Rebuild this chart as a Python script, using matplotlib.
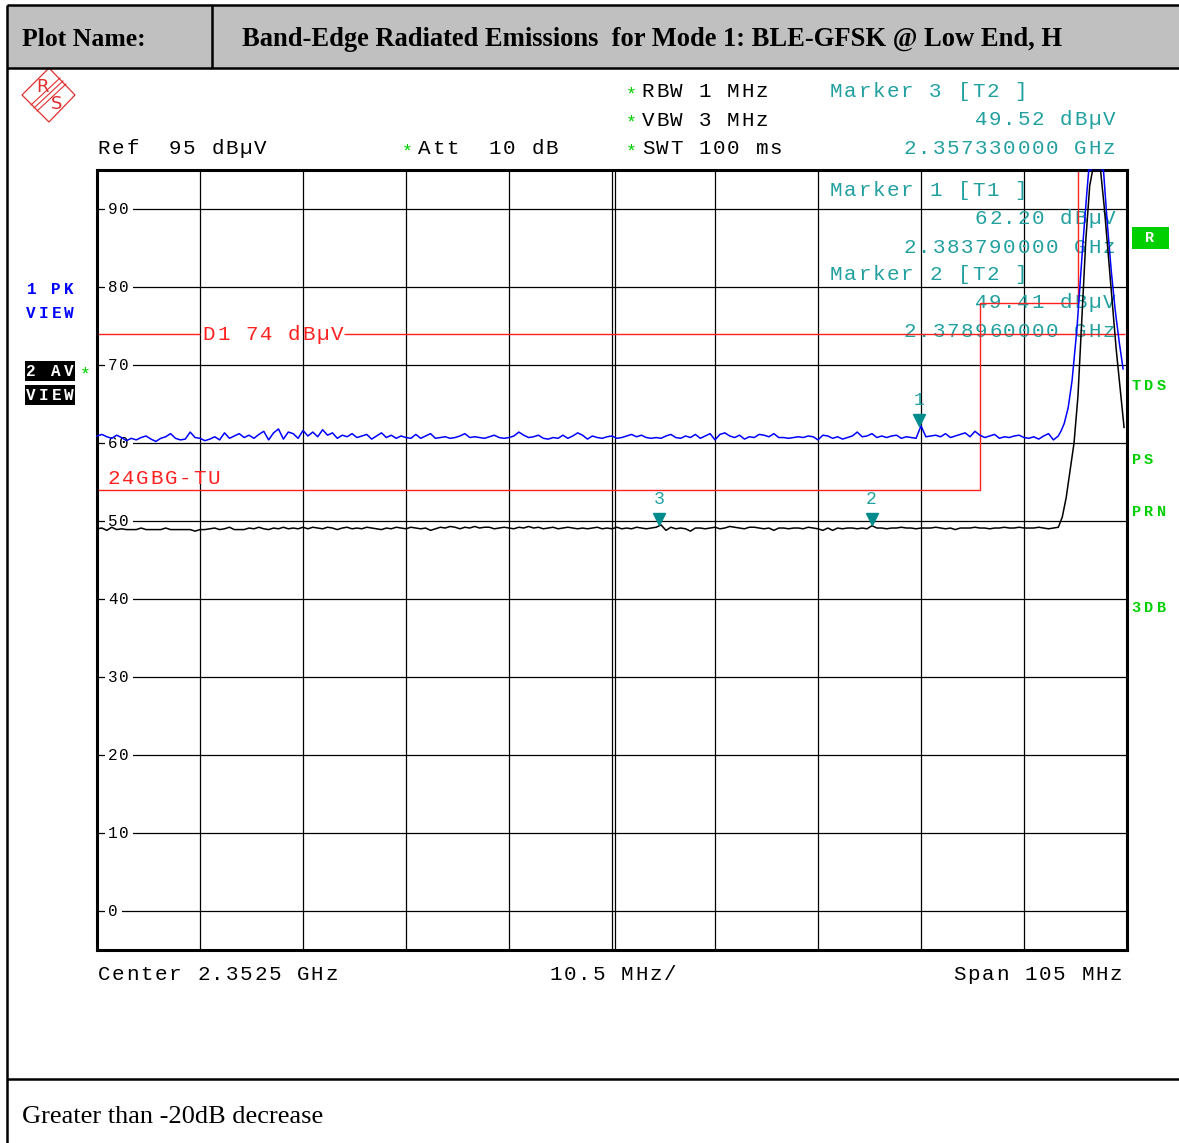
import numpy as np
import matplotlib.pyplot as plt
from matplotlib.patches import Rectangle, Polygon

W, H = 1179, 1143

# sweep: center 2352.5 MHz, span 105 MHz, 10.5 MHz/div
f_start, f_stop = 2300.0, 2405.0
f_div = 10.5

# noise floor, 0.5 MHz steps from 2300.0 MHz to 2397.5 MHz
pk_floor = [
    60.9, 61.1, 60.8, 60.6, 61.0, 60.7, 60.3, 60.6, 60.4, 60.7, 60.9, 60.5, 60.2, 60.6, 60.8, 61.2, 60.6, 60.4, 60.5, 61.4,
    60.7, 60.6, 60.3, 60.5, 60.8, 60.4, 61.3, 60.6, 60.9, 61.2, 60.7, 61.0, 60.6, 61.1, 61.5, 60.4, 61.3, 61.8, 60.5, 61.4,
    61.2, 60.6, 61.6, 60.9, 61.4, 60.8, 61.7, 61.0, 61.3, 60.6, 61.0, 60.8, 61.2, 60.7, 60.9, 61.1, 60.5, 60.9, 61.3, 60.7,
    61.0, 60.6, 60.9, 60.7, 60.6, 61.1, 60.6, 60.9, 61.2, 60.6, 60.7, 60.8, 60.6, 60.7, 60.9, 61.2, 60.7, 60.8, 60.7, 60.6,
    60.8, 61.0, 60.7, 60.6, 60.7, 60.9, 61.4, 61.0, 60.7, 60.8, 61.0, 60.6, 60.5, 60.7, 60.6, 61.0, 60.6, 60.9, 61.3, 61.0,
    60.5, 60.9, 60.7, 60.6, 60.8, 60.9, 60.6, 60.7, 60.9, 61.1, 60.8, 61.0, 60.7, 60.6, 60.7, 60.6, 60.9, 61.1, 60.7, 60.6,
    60.9, 60.7, 61.1, 60.6, 60.9, 61.2, 60.4, 61.1, 61.3, 60.9, 60.7, 61.0, 60.5, 60.8, 60.7, 61.1, 61.0, 60.8, 61.2, 60.7,
    60.7, 60.6, 60.7, 60.8, 60.7, 60.9, 60.8, 60.4, 61.0, 60.9, 60.6, 60.8, 60.5, 60.7, 60.9, 61.4, 60.8, 60.9, 61.2, 60.7,
    60.9, 60.7, 60.9, 61.0, 60.6, 60.8, 60.7, 60.6, 62.2, 60.8, 60.9, 61.0, 60.8, 61.2, 60.7, 60.9, 61.1, 61.3, 60.8, 61.5,
    61.0, 60.7, 60.9, 61.1, 60.6, 60.8, 60.7, 60.9, 61.0, 60.7, 60.6, 60.8, 60.5, 60.9, 61.2, 60.4,
]
av_floor = [
    49.0, 49.1, 48.8, 49.2, 48.9, 49.0, 48.9, 48.9, 48.9, 49.1, 48.9, 48.9, 48.9, 48.9, 49.1, 48.9, 48.9, 48.9, 48.9, 48.9,
    48.7, 48.9, 48.9, 49.0, 49.1, 48.9, 49.0, 49.2, 48.9, 48.9, 48.9, 49.1, 49.0, 49.2, 49.0, 48.9, 49.1, 49.0, 49.2, 49.0,
    49.1, 49.0, 49.2, 49.0, 49.2, 49.1, 49.0, 49.2, 49.1, 48.9, 49.1, 49.2, 49.0, 49.1, 49.0, 49.2, 49.1, 49.0, 48.9, 49.1,
    49.0, 49.2, 49.1, 49.0, 49.2, 49.1, 49.0, 49.1, 48.8, 49.0, 49.2, 49.1, 49.3, 49.2, 49.0, 49.2, 49.1, 49.3, 49.1, 49.2,
    49.2, 49.0, 49.1, 49.2, 49.1, 49.0, 49.2, 49.1, 49.3, 49.1, 49.2, 49.0, 49.1, 49.2, 49.0, 49.1, 49.2, 49.1, 49.0, 49.1,
    49.0, 49.1, 49.2, 49.0, 49.1, 49.0, 49.2, 49.0, 49.1, 49.0, 49.2, 49.1, 49.0, 49.1, 49.2, 49.5, 48.8, 49.2, 49.0, 49.1,
    49.0, 48.7, 49.1, 49.1, 49.0, 49.1, 49.2, 49.0, 49.1, 49.3, 49.2, 49.1, 49.0, 49.2, 49.2, 49.1, 49.0, 49.1, 48.8, 49.1,
    49.1, 49.0, 49.1, 49.1, 49.0, 49.2, 49.1, 49.0, 48.8, 49.1, 48.8, 49.1, 49.0, 49.1, 49.1, 49.0, 49.1, 49.0, 49.4, 49.1,
    49.1, 49.0, 49.1, 49.1, 49.2, 49.1, 49.1, 49.0, 49.1, 49.1, 49.1, 49.2, 49.1, 49.0, 49.1, 48.9, 49.1, 49.1, 49.1, 49.2,
    49.1, 49.1, 49.0, 49.1, 49.1, 49.2, 49.1, 49.1, 49.2, 49.1, 49.1, 49.1, 49.2, 49.1, 49.0, 49.1,
]
floor_step = 0.5

# carrier at 2402 MHz (clipped at the top of the screen)
pk_peak_f = [2398.0, 2398.3, 2398.6, 2399.0, 2399.4, 2399.9, 2400.5, 2400.9, 2401.1, 2402.6,
             2403.0, 2403.4, 2403.8, 2404.2, 2404.6]
pk_peak = [60.9, 61.6, 62.5, 64.5, 68.0, 74.7, 85.5, 92.0, 95.0, 95.0,
           88.0, 82.0, 77.0, 73.0, 69.5]
av_peak_f = [2398.0, 2398.4, 2398.8, 2399.2, 2399.6, 2400.0, 2400.4, 2400.8, 2401.2, 2401.5,
             2402.3, 2402.7, 2403.1, 2403.5, 2403.9, 2404.3, 2404.7]
av_peak = [49.2, 50.5, 53.0, 56.5, 60.0, 66.0, 76.0, 86.0, 93.0, 95.0,
           95.0, 90.0, 84.0, 78.0, 72.0, 67.0, 62.0]

# limit line 24GBG-TU and display line D1
limit_f = [2300.0, 2390.0, 2390.0, 2400.0, 2400.0]
limit_db = [54, 54, 78, 78, 95]
d1_db = 74

marker_num = ['1', '2', '3']
marker_trace = ['T1', 'T2', 'T2']
marker_f = [2383.79, 2378.96, 2357.33]
marker_db = [62.20, 49.41, 49.52]

ref_db = 95
y_ticks = [0, 10, 20, 30, 40, 50, 60, 70, 80, 90]

TEAL = '#22a0a0'
RED = '#ff2020'
GREEN = '#00d000'
MONO = 'Liberation Mono'
SERIF = 'Liberation Serif'

fig = plt.figure(figsize=(W / 100, H / 100), dpi=100)

# background layer in pixel coordinates (origin top-left)
bg = fig.add_axes([0, 0, 1, 1])
bg.set_xlim(0, W)
bg.set_ylim(H, 0)
bg.axis('off')


def spaced(x, y, s, color='black', adv=14.2, size=15, ha='left', target=None,
           weight='normal', zorder=3):
    # analyzer screen font: fixed, wide character cells
    target = target or bg
    if ha == 'right':
        x = x - len(s) * adv + 1
    else:
        x = x - 1
    for i, ch in enumerate(s):
        if ch != ' ':
            target.text(x + (i + 0.5) * adv, y, ch, color=color, fontfamily=MONO,
                        fontsize=size, fontweight=weight, ha='center', va='baseline',
                        transform=bg.transData, zorder=zorder, clip_on=False)


# header table
bg.add_patch(Rectangle((7, 5), W - 7, 63, facecolor='#c0c0c0', edgecolor='none'))
for xs, ys in [([7, W], [5, 5]), ([7, W], [68, 68]), ([212, 212], [5, 68]),
               ([7, 7], [5, H]), ([7, W], [1079, 1079])]:
    bg.plot(xs, ys, color='black', lw=1.8, solid_capstyle='butt')
bg.text(22, 46, 'Plot Name:', fontfamily=SERIF, fontweight='bold', fontsize=18.5)
bg.text(242, 46, 'Band-Edge Radiated Emissions  for Mode 1: BLE-GFSK @ Low End, H',
        fontfamily=SERIF, fontweight='bold', fontsize=19.1)
bg.text(22, 1123, 'Greater than -20dB decrease', fontfamily=SERIF, fontsize=19)

# R&S logo
bg.add_patch(Polygon([(22, 95), (49, 68), (75, 95), (49, 122)], closed=True,
                     fill=False, edgecolor='#e03030', lw=0.9))
for d in (-3, 0, 3):
    bg.plot([34 + d, 63 + d], [108 + d, 81 + d], color='#e03030', lw=0.8)
bg.text(42, 87, 'R', color='#e03030', fontsize=13, ha='center', va='center')
bg.text(57, 104, 'S', color='#e03030', fontsize=13, ha='center', va='center')

# instrument settings
spaced(98, 154, f'Ref  {ref_db} dBµV')
spaced(403, 156, '*', color=GREEN, adv=10, size=13)
spaced(418, 154, 'Att  10 dB')
for i, s in enumerate(['RBW 1 MHz', 'VBW 3 MHz', 'SWT 100 ms']):
    spaced(627, 99 + 28.5 * i, '*', color=GREEN, adv=10, size=13)
    spaced(642, 97 + 28.5 * i, s)

spaced(830, 97, f'Marker {marker_num[2]} [{marker_trace[2]} ]', color=TEAL)
spaced(1115, 125, f'{marker_db[2]:.2f} dBµV', color=TEAL, ha='right')
spaced(1115, 154, f'{marker_f[2] / 1000:.9f} GHz', color=TEAL, ha='right')

spaced(98, 980, f'Center {(f_start + f_stop) / 2000:.4f} GHz')
spaced(550, 980, f'{f_div} MHz/')
spaced(1122, 980, f'Span {f_stop - f_start:.0f} MHz', ha='right')

# side soft keys
spaced(26, 294, '1 PK', color='#0000ff', adv=12.5, size=11.5, weight='bold')
spaced(26, 318, 'VIEW', color='#0000ff', adv=12.5, size=11.5, weight='bold')
for y0, s in [(361, '2 AV'), (385, 'VIEW')]:
    bg.add_patch(Rectangle((25, y0), 50, 20, facecolor='black'))
    spaced(26, y0 + 15, s, color='white', adv=12.5, size=11.5, weight='bold')
spaced(81, 379, '*', color=GREEN, adv=10, size=13)
bg.add_patch(Rectangle((1132, 227), 37, 22, facecolor=GREEN))
bg.text(1150, 238, 'R', color='white', fontfamily=MONO, fontweight='bold', fontsize=11,
        ha='center', va='center')
for y0, s in [(390, 'TDS'), (464, 'PS'), (516, 'PRN'), (612, '3DB')]:
    spaced(1131, y0, s, color=GREEN, adv=12.5, size=11, weight='bold')

# screen
ax = fig.add_axes([97 / W, 1 - 950 / H, 1030 / W, 780 / H])
ax.set_xlim(f_start, f_stop)
ax.set_ylim(ref_db - 100, ref_db)
ax.set_xticks(np.arange(f_start, f_stop + 0.01, f_div))
ax.set_yticks(y_ticks)
ax.tick_params(length=0, labelbottom=False, labelleft=False)
ax.grid(True, color='black', lw=0.9)
ax.set_axisbelow(True)
ax.axvline((f_start + f_stop) / 2 + 0.3, color='black', lw=0.9, zorder=0.5)
for sp in ax.spines.values():
    sp.set_linewidth(2.2)

for v in y_ticks:
    label = str(v)
    ypix = 950 - (v - (ref_db - 100)) * 7.8
    ax.add_patch(Rectangle((105, ypix - 6), 5 + 11.5 * len(label), 12, facecolor='white',
                           edgecolor='none', transform=bg.transData, zorder=0.8))
    spaced(108, ypix + 5, label, adv=11.5, size=11.5, target=ax, zorder=1)

# marker readout drawn on the screen, under the traces
for row, k in enumerate([0, 1]):
    base = 196 + 84 * row
    spaced(830, base, f'Marker {marker_num[k]} [{marker_trace[k]} ]', color=TEAL, target=ax, zorder=1)
    spaced(1115, base + 28, f'{marker_db[k]:.2f} dBµV', color=TEAL, ha='right', target=ax, zorder=1)
    spaced(1115, base + 57, f'{marker_f[k] / 1000:.9f} GHz', color=TEAL, ha='right', target=ax, zorder=1)

# display line D1 and limit line
ax.hlines(d1_db, f_start, f_start + f_div, color=RED, lw=1.0, zorder=2)
ax.hlines(d1_db, 2325.2, f_stop - 0.2, color=RED, lw=1.0, zorder=2)
spaced(203, 340, f'D1 {d1_db} dBµV', color=RED, target=ax, zorder=2)
ax.plot(limit_f, limit_db, color=RED, lw=1.0, zorder=2)
spaced(108, 484, '24GBG-TU', color=RED, target=ax, zorder=2)

# traces
floor_f = f_start + floor_step * np.arange(len(pk_floor))
ax.plot(np.concatenate([floor_f, pk_peak_f]), pk_floor + pk_peak, color='#0000ff', lw=1.1,
        zorder=4, clip_on=False)
ax.plot(np.concatenate([floor_f, av_peak_f]), av_floor + av_peak, color='black', lw=1.1,
        zorder=4, clip_on=False)

# markers
ax.plot(marker_f, np.array(marker_db) + 0.8, ls='none', marker='v', ms=9, color='#008c8c', zorder=5)
for n, f, v in zip(marker_num, marker_f, marker_db):
    ax.text(f, v + 2.2, n, color=TEAL, fontfamily=MONO, fontsize=13, ha='center', va='bottom', zorder=5)

fig.savefig('out.png', dpi=100)
